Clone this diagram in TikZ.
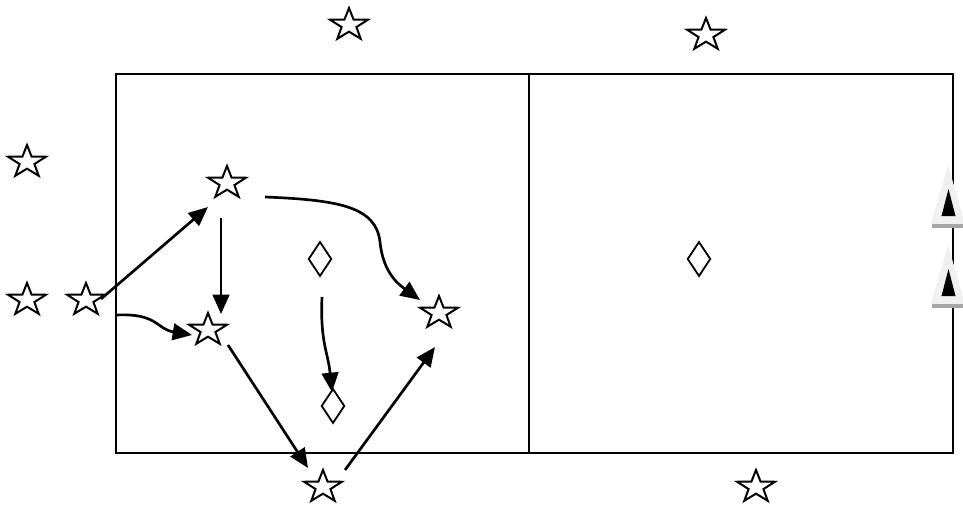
\documentclass[tikz,border=0pt]{standalone}
\usetikzlibrary{arrows.meta,shapes.geometric,calc}

\begin{document}
\begin{tikzpicture}[
  x=0.03cm, y=-0.03cm,
  >={Triangle[length=5.8mm,width=5mm]},
  player/.style={star, star points=5, star point ratio=2.55, draw=black,
                 line width=0.6mm, fill=white, inner sep=0pt,
                 minimum size=10.2mm, xscale=1.17},
  marker/.style={diamond, draw=black, line width=0.55mm, fill=white,
                 inner sep=0pt, minimum width=7mm, minimum height=10.4mm},
  edge/.style={->, draw=black, line width=0.8mm},
]
\useasboundingbox (0,0) rectangle (963,504);

% field
\draw[line width=0.75mm] (116,74) rectangle (953,453);
\draw[line width=0.75mm] (529,74) -- (529,453);

% players
\node[player] (top)    at (349,25)  {};
\node[player] (topr)   at (706,35)  {};
\node[player] (wing)   at (27,162)  {};
\node[player] (back)   at (27,300)  {};
\node[player] (pass)   at (86,300)  {};
\node[player] (upper)  at (227,183) {};
\node[player] (lower)  at (208,330) {};
\node[player] (target) at (439,313) {};
\node[player] (base)   at (323,487) {};
\node[player] (baser)  at (756,487) {};

% markers
\node[marker] (mk)    at (320,259) {};
\node[marker] (mkend) at (333,406) {};
\node[marker] (mkr)   at (699,259) {};

% goals
\foreach \yy in {165,245} {
  \fill[black!6] (948,\yy) -- (965,\yy+59) -- (931,\yy+59) -- cycle;
  \fill[black!35] (932,\yy+59) rectangle (964,\yy+63);
  \fill[black] (948.5,\yy+24) -- (955.5,\yy+51) -- (941.5,\yy+51) -- cycle;
}

% runs and passes
\draw[edge] ($(pass)+(15,-1)$) -- ($(upper)+(-19,24)$);
\draw[edge] ($(pass)+(30,15)$) .. controls +(42,-2) and +(-36,-6)
  .. ($(lower)+(-16,5)$);
\draw[edge] ($(upper)+(-6,35)$) -- ($(lower)+(13,-16)$);
\draw[edge] ($(upper)+(38,14)$) .. controls +(75,3) and +(-4,-35) .. ++(115,45)
  .. controls +(3,30) and +(-22,-16) .. ($(target)+(-19,-13)$);
\draw[edge] ($(mk)+(2,38)$) .. controls +(-2,45) and +(-4,-40)
  .. ($(mkend)+(-1,-14)$);
\draw[edge] ($(lower)+(20,15)$) -- ($(base)+(-15,-19)$);
\draw[edge] ($(base)+(22,-17)$) -- ($(target)+(-4,34)$);
\end{tikzpicture}
\end{document}
